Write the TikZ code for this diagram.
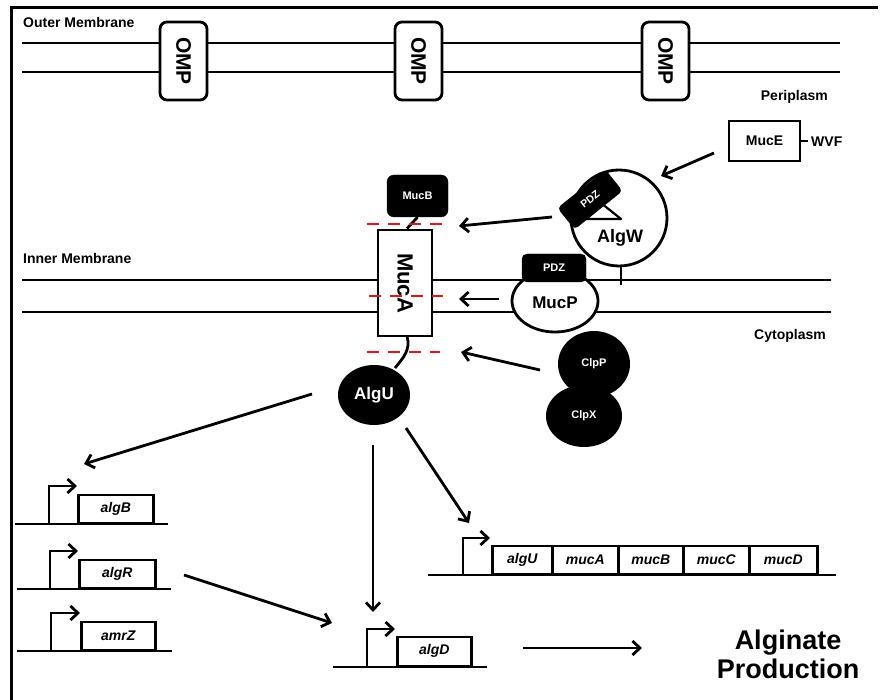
\documentclass[tikz,border=0pt]{standalone}
\usepackage{fontspec}
\setmainfont{Liberation Sans}
\usetikzlibrary{arrows.meta,shapes.geometric}

\newcommand{\fs}[1]{\fontsize{#1}{#1}\selectfont}

\tikzset{
  lw/.style={line width=2.8pt},
  lbl/.style={font=\bfseries\fs{14}, inner sep=0pt},
  arr/.style={lw, -{Straight Barb[length=7.5pt,width=14pt,line width=2.8pt]}},
  cutline/.style={line width=2.2pt, draw={rgb,255:red,230;green,20;blue,20}, dash pattern=on 12pt off 9pt},
  omp/.style={draw, lw, fill=white, rounded corners=7pt, minimum width=47pt, minimum height=78pt,
    inner sep=0pt, font=\bfseries\fs{21}},
  blackbox/.style={draw, fill=black, rounded corners=4pt, inner sep=0pt, text=white, font=\bfseries\fs{11}},
  whitebox/.style={draw, lw, fill=white, inner sep=0pt},
  gene/.style={draw, line width=2.5pt, fill=white, inner sep=0pt, anchor=south west,
    minimum height=28pt, font=\bfseries\itshape\fs{14}},
  blob/.style={ellipse, fill=black, inner sep=0pt, text=white, font=\bfseries},
}

\begin{document}
\begin{tikzpicture}[x=1pt,y=-1pt]
\useasboundingbox (0,0) rectangle (883,700);
\fill[white] (0,0) rectangle (883,700);

% frame
\draw[line width=3.2pt] (11.5,700) -- (11.5,7.5) -- (878,7.5);

% outer membrane
\draw[lw] (22,43) -- (840,43);
\draw[lw] (22,72) -- (840,72);
\node[omp] (omp1) at (183.5,61) {\rotatebox{-90}{OMP}};
\node[omp] (omp2) at (418.5,61) {\rotatebox{-90}{OMP}};
\node[omp] (omp3) at (665.5,61) {\rotatebox{-90}{OMP}};
\node[lbl, anchor=base west] (outer) at (23,28) {Outer Membrane};
\node[lbl, anchor=base east] (peri) at (828,101) {Periplasm};

% inner membrane
\draw[lw] (22,280) -- (831,280);
\draw[lw] (22,312) -- (831,312);
\node[lbl, anchor=base west] (inner) at (23,264) {Inner Membrane};
\node[lbl, anchor=base east] (cyto) at (826,340) {Cytoplasm};

% MucE with its WVF tail
\node[whitebox, minimum width=71pt, minimum height=40pt, font=\bfseries\fs{14}] (muce) at (764.5,141) {MucE};
\node[lbl, anchor=west] (wvf) at (811,141.5) {WVF};
\coordinate (wvfEnd) at (808,141);
\draw[lw] (muce.east) -- (wvfEnd);

% AlgW protease
\draw[lw] (621,266) -- (621,285);
\node[circle, draw, lw, fill=white, minimum size=96pt, inner sep=0pt] (algw) at (619,218) {};
\node[font=\bfseries\fs{18}] (algwlbl) at (620,238) {AlgW};
\draw[line width=2.2pt, fill=white, line join=round] (586,219) -- (621,219) -- (601,203) -- cycle;
\node[blackbox, minimum width=61pt, minimum height=27pt, rotate=38.7, font=\bfseries\fs{10.5}] (pdzw) at (590,199.5) {PDZ};

% MucA anchored in the inner membrane, MucB on top
\node[whitebox, minimum width=54pt, minimum height=106pt, font=\bfseries\fs{22}] (muca) at (405,283) {\rotatebox{-90}{MucA}};
\node[blackbox, minimum width=61pt, minimum height=42pt, rounded corners=7pt] (mucb) at (417.5,196) {MucB};
\draw[lw] (mucb.south) -- (muca.north -| 407,0);

% MucP with PDZ
\node[ellipse, draw, lw, fill=white, minimum width=86pt, minimum height=62pt, inner sep=0pt] (mucp) at (555,301) {};
\node[font=\bfseries\fs{17}] (mucplbl) at (555,303) {MucP};
\node[blackbox, minimum width=64pt, minimum height=28pt, rounded corners=5pt] (pdzp) at (554,268) {PDZ};

% AlgU sigma factor tethered to MucA
\node[blob, minimum width=72pt, minimum height=60pt, font=\bfseries\fs{17}] (algu) at (374,395) {AlgU};
\coordinate (mucaBot) at (407,336);
\coordinate (alguTop) at (395,368);
\draw[lw] (mucaBot) .. controls (411,350) and (403,358) .. (alguTop);

% ClpXP
\node[blob, minimum width=76pt, minimum height=62pt, font=\bfseries\fs{11}] (clpx) at (584,416) {ClpX};
\node[blob, minimum width=72pt, minimum height=66pt, font=\bfseries\fs{11}] (clpp) at (594,364) {ClpP};

% cleavage sites
\coordinate (cutA1) at (367,224); \coordinate (cutA2) at (447,224);
\coordinate (cutB1) at (369,296); \coordinate (cutB2) at (443,296);
\coordinate (cutC1) at (367,352); \coordinate (cutC2) at (440,352);
\draw[cutline] (cutA1) -- (cutA2);
\draw[cutline] (cutB1) -- (cutB2);
\draw[cutline] (cutC1) -- (cutC2);

% proteolysis arrows
\coordinate (muceOut) at (714,153);
\coordinate (algwIn) at (661,176);
\draw[arr] (muceOut) -- (algwIn);
\coordinate (algwOut) at (552,217);
\coordinate (cutAin) at (459,226);
\draw[arr] (algwOut) -- (cutAin);
\coordinate (mucpOut) at (499,299);
\coordinate (cutBin) at (459,299);
\draw[arr] (mucpOut) -- (cutBin);
\coordinate (clpOut) at (540,370);
\coordinate (cutCin) at (461,352);
\draw[arr] (clpOut) -- (cutCin);

% single genes on the left
\foreach \nm/\lab/\y/\xa/\xb/\xp/\xe/\xbox/\wbox in
  {algB/algB/524/15/168/49/77/77/75,
   algR/algR/589/17/171/50/78/78/76,
   amrZ/amrZ/651/17/172/51/80/80/74}{
  \draw[lw] (\xa,\y) -- (\xb,\y);
  \node[gene, minimum width=\wbox pt] (g\nm) at (\xbox,\y) {\lab};
  \draw[arr] (\xp,\y) |- (\xe,\y-38);
}

% algU-mucABCD operon
\draw[lw] (428,575) -- (836,575);
\node[gene, minimum width=60pt] (oalgU) at (491,575) {algU};
\node[gene, minimum width=66pt] (omucA) at (551,575) {mucA};
\node[gene, minimum width=65pt] (omucB) at (617,575) {mucB};
\node[gene, minimum width=66pt] (omucC) at (682,575) {mucC};
\node[gene, minimum width=68pt] (omucD) at (748,575) {mucD};
\draw[arr] (463,575) |- (490,538);

% algD
\draw[lw] (333,667) -- (487,667);
\node[gene, minimum width=74pt, minimum height=29pt] (galgD) at (396,667) {algD};
\draw[arr] (367,667) |- (395,629);

% Alginate output
\node[font=\bfseries\fs{27}, align=center, inner sep=0pt] (alg) at (788,654)
  {Alginate\\[2pt]Production};

% transcriptional activation by AlgU
\coordinate (alguL) at (312,394);
\coordinate (algBin) at (84,464);
\draw[arr] (alguL) -- (algBin);
\coordinate (alguD) at (373,445);
\coordinate (algDin) at (373,612);
\draw[arr] (alguD) -- (algDin);
\coordinate (alguR) at (406,428);
\coordinate (operonIn) at (469,523);
\draw[arr] (alguR) -- (operonIn);
\coordinate (algROut) at (184,575);
\coordinate (algDin2) at (332,623);
\draw[arr] (algROut) -- (algDin2);
\coordinate (algDOut) at (523,648);
\coordinate (prodIn) at (642,648);
\draw[arr] (algDOut) -- (prodIn);
\end{tikzpicture}
\end{document}
